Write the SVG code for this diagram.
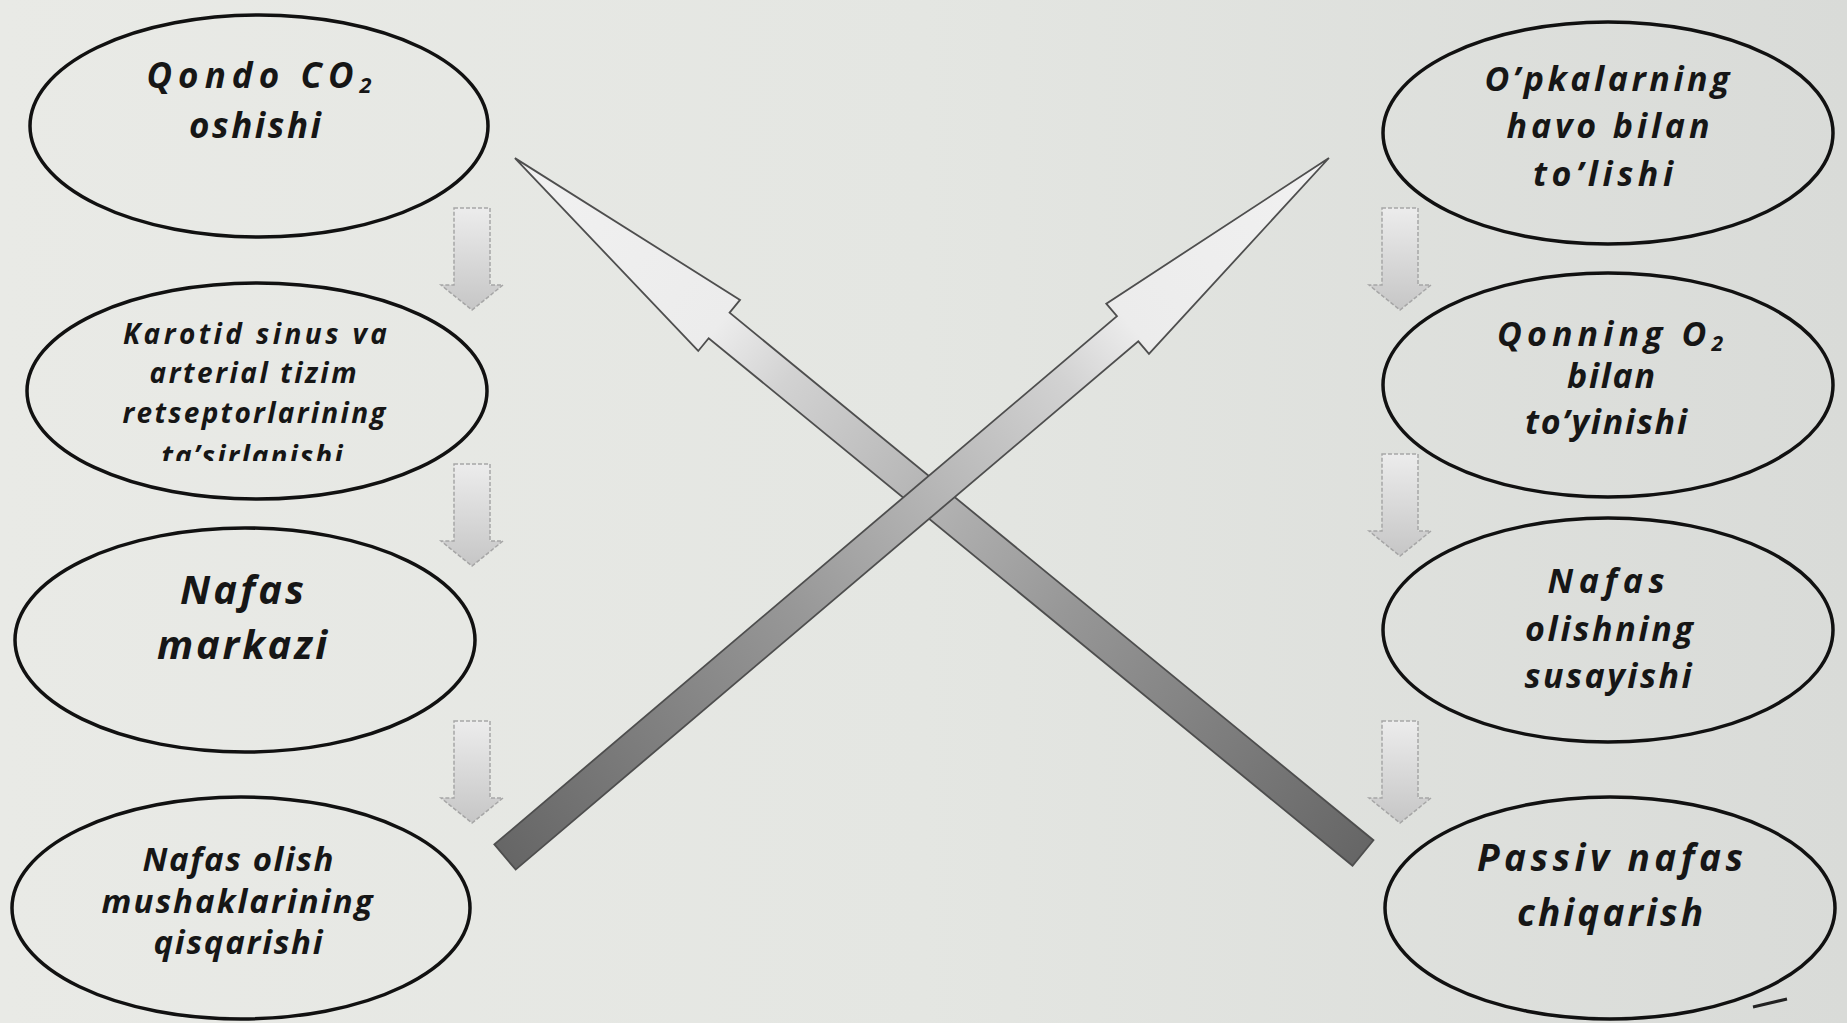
<svg xmlns="http://www.w3.org/2000/svg" width="1847" height="1023" viewBox="0 0 1847 1023">
  <defs>
    <linearGradient id="bg" x1="0" y1="0" x2="1" y2="0">
      <stop offset="0" stop-color="#e9eae6"/>
      <stop offset="0.5" stop-color="#e4e6e2"/>
      <stop offset="1" stop-color="#d9dbd8"/>
    </linearGradient>
    <linearGradient id="shaft" x1="0" y1="0" x2="1" y2="0">
      <stop offset="0" stop-color="#666"/>
      <stop offset="0.35" stop-color="#979797"/>
      <stop offset="0.68" stop-color="#d2d2d2"/>
      <stop offset="0.76" stop-color="#ececec"/>
      <stop offset="1" stop-color="#f1f1f1"/>
    </linearGradient>
    <linearGradient id="small" x1="0" y1="0" x2="0" y2="1">
      <stop offset="0" stop-color="#ececec"/>
      <stop offset="1" stop-color="#c6c6c6"/>
    </linearGradient>
    <path id="down" d="M-18,0 H18 V77 H31 L0,102 L-31,77 H-18 Z"/>
    <clipPath id="cut"><rect x="0" y="250" width="560" height="211"/></clipPath>
  </defs>
  <style>
    .node ellipse { fill: none; stroke: #111; stroke-width: 3.5; }
    .node text { font-family: "Open Sans", "Noto Sans", "Liberation Sans", sans-serif; font-weight: bold; font-style: italic; fill: #161616; text-anchor: middle; }
    .big { fill: url(#shaft); stroke: #4e4e4e; stroke-width: 1.8; stroke-linejoin: miter; }
    .sm { fill: url(#small); stroke: #a6a6a6; stroke-width: 1.5; stroke-dasharray: 4 2; }
    .sub { font-size: 62%; }
  </style>
  <rect width="1847" height="1023" fill="url(#bg)"/>

  <g id="connectors">
    <use href="#down" class="sm" x="472" y="208"/>
    <use href="#down" class="sm" x="472" y="464"/>
    <use href="#down" class="sm" x="472" y="721"/>
    <use href="#down" class="sm" x="1400" y="208"/>
    <use href="#down" class="sm" x="1400" y="454"/>
    <use href="#down" class="sm" x="1400" y="721"/>
    <polygon id="arrowA" class="big" transform="translate(1363,853) rotate(-140.67)" points="0,-16.5 832.4,-16.5 832.4,-33 1096.4,0 832.4,33 832.4,16.5 0,16.5"/>
    <polygon id="arrowB" class="big" transform="translate(505,857) rotate(-40.31)" points="0,-16.5 816.5,-16.5 816.5,-33 1080.5,0 816.5,33 816.5,16.5 0,16.5"/>
  </g>

  <g id="n-qondo" class="node">
    <ellipse cx="259" cy="126" rx="229" ry="111"/>
    <text x="259" y="88" font-size="35" textLength="225" lengthAdjust="spacing">Qondo CO<tspan class="sub" dy="5">2</tspan></text>
    <text x="255" y="138" font-size="35" textLength="132" lengthAdjust="spacing">oshishi</text>
  </g>
  <g id="n-karotid" class="node">
    <ellipse cx="257" cy="391" rx="230" ry="108"/>
    <text x="255" y="344" font-size="28" textLength="264" lengthAdjust="spacing">Karotid sinus va</text>
    <text x="253" y="383" font-size="28" textLength="207" lengthAdjust="spacing">arterial tizim</text>
    <text x="254" y="423" font-size="28" textLength="263" lengthAdjust="spacing">retseptorlarining</text>
    <text x="252" y="466" font-size="28" textLength="181" lengthAdjust="spacing" clip-path="url(#cut)">ta’sirlanishi</text>
  </g>
  <g id="n-markaz" class="node">
    <ellipse cx="245" cy="640" rx="230" ry="112"/>
    <text x="242" y="604" font-size="40" textLength="124" lengthAdjust="spacing">Nafas</text>
    <text x="242" y="659" font-size="40" textLength="170" lengthAdjust="spacing">markazi</text>
  </g>
  <g id="n-mushak" class="node">
    <ellipse cx="241" cy="908" rx="229" ry="111"/>
    <text x="238" y="871" font-size="33" textLength="191" lengthAdjust="spacing">Nafas olish</text>
    <text x="237" y="913" font-size="33" textLength="271" lengthAdjust="spacing">mushaklarining</text>
    <text x="238" y="954" font-size="33" textLength="169" lengthAdjust="spacing">qisqarishi</text>
  </g>

  <g id="n-opka" class="node">
    <ellipse cx="1608" cy="133" rx="225" ry="111"/>
    <text x="1607" y="91" font-size="34" textLength="245" lengthAdjust="spacing">O’pkalarning</text>
    <text x="1608" y="138" font-size="34" textLength="203" lengthAdjust="spacing">havo bilan</text>
    <text x="1603" y="186" font-size="34" textLength="140" lengthAdjust="spacing">to’lishi</text>
  </g>
  <g id="n-qonning" class="node">
    <ellipse cx="1608" cy="385" rx="225" ry="112"/>
    <text x="1610" y="346" font-size="34" textLength="226" lengthAdjust="spacing">Qonning O<tspan class="sub" dy="5">2</tspan></text>
    <text x="1611" y="388" font-size="34" textLength="88" lengthAdjust="spacing">bilan</text>
    <text x="1606" y="434" font-size="34" textLength="162" lengthAdjust="spacing">to’yinishi</text>
  </g>
  <g id="n-susay" class="node">
    <ellipse cx="1608" cy="630" rx="225" ry="112"/>
    <text x="1606" y="593" font-size="34" textLength="117" lengthAdjust="spacing">Nafas</text>
    <text x="1609" y="641" font-size="34" textLength="168" lengthAdjust="spacing">olishning</text>
    <text x="1608" y="688" font-size="34" textLength="167" lengthAdjust="spacing">susayishi</text>
  </g>
  <g id="n-passiv" class="node">
    <ellipse cx="1610" cy="908" rx="225" ry="111"/>
    <text x="1610" y="871" font-size="37" textLength="266" lengthAdjust="spacing">Passiv nafas</text>
    <text x="1610" y="926" font-size="37" textLength="186" lengthAdjust="spacing">chiqarish</text>
  </g>
  <path d="M1753,1007 L1787,999" stroke="#222" stroke-width="3" fill="none"/>
</svg>
